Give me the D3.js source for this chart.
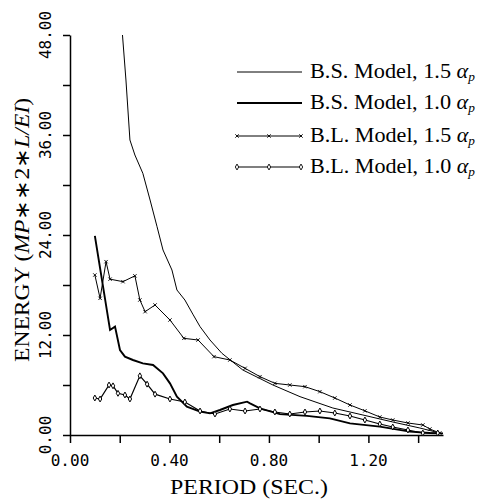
<!DOCTYPE html>
<html>
<head>
<meta charset="utf-8">
<script src="https://cdn.jsdelivr.net/npm/d3@7"></script>
<style>
body { margin: 0; background: #fff; }
svg { display: block; }
</style>
</head>
<body>
<script>
// period (sec.) and energy values
var bs15Period = [0.211, 0.225, 0.241, 0.261, 0.293, 0.322, 0.350, 0.374, 0.410, 0.430, 0.462, 0.494, 0.523, 0.563, 0.611, 0.695, 0.816, 0.925, 1.057, 1.178, 1.298, 1.407, 1.487];
var bs15Energy = [48.0, 42.6, 35.4, 33.6, 31.4, 28.2, 25.0, 22.2, 19.8, 17.4, 16.2, 14.5, 13.0, 11.4, 9.8, 7.8, 6.0, 4.6, 3.24, 2.4, 1.56, 0.84, 0.24];

var bs10Period = [0.100, 0.161, 0.181, 0.201, 0.221, 0.253, 0.293, 0.334, 0.374, 0.402, 0.430, 0.470, 0.523, 0.563, 0.603, 0.655, 0.712, 0.724, 0.764, 0.844, 0.953, 1.045, 1.126, 1.246, 1.367, 1.447, 1.5];
var bs10Energy = [23.9, 12.6, 13.0, 10.2, 9.4, 9.0, 8.6, 8.4, 7.4, 6.2, 4.6, 3.4, 2.8, 2.6, 3.0, 3.6, 4.0, 3.8, 3.2, 2.5, 2.3, 2.0, 1.4, 1.0, 0.4, 0.24, 0.2];

var bl15Period = [0.100, 0.121, 0.145, 0.161, 0.213, 0.261, 0.281, 0.302, 0.342, 0.402, 0.458, 0.515, 0.579, 0.643, 0.704, 0.764, 0.824, 0.884, 0.945, 1.005, 1.065, 1.126, 1.186, 1.246, 1.298, 1.359, 1.419, 1.447, 1.487];
var bl15Energy = [19.2, 16.4, 20.8, 18.7, 18.4, 19.1, 16.2, 14.8, 15.6, 13.8, 11.6, 11.4, 9.4, 9.0, 8.0, 7.0, 6.2, 6.0, 5.8, 5.2, 4.44, 3.6, 2.9, 2.16, 1.8, 1.44, 1.2, 0.72, 0.24];

var bl10Period = [0.100, 0.121, 0.157, 0.173, 0.193, 0.221, 0.241, 0.281, 0.310, 0.342, 0.402, 0.462, 0.523, 0.583, 0.643, 0.704, 0.764, 0.824, 0.884, 0.945, 1.005, 1.065, 1.126, 1.186, 1.246, 1.298, 1.359, 1.419, 1.479];
var bl10Energy = [4.44, 4.32, 6.0, 5.9, 5.0, 4.8, 4.32, 7.1, 6.1, 4.9, 4.32, 3.96, 2.88, 2.52, 3.12, 2.88, 3.12, 2.76, 2.52, 2.76, 2.88, 2.64, 2.28, 1.8, 1.32, 0.96, 0.6, 0.24, 0.24];

var xTicks = [0, 0.2, 0.4, 0.6, 0.8, 1.0, 1.2, 1.4];
var xLabels = [0, 0.4, 0.8, 1.2];
var yTicks = [0, 6, 12, 18, 24, 30, 36, 42, 48];
var yLabels = [0, 12, 24, 36, 48];

var legendNames = ["B.S. Model, 1.5 ", "B.S. Model, 1.0 ", "B.L. Model, 1.5 ", "B.L. Model, 1.0 "];

function zip(xs, ys) {
  var out = [];
  for (var i = 0; i < xs.length; i++) out.push({p: xs[i], e: ys[i]});
  return out;
}

var width = 482, height = 501;

var svg = d3.select("body").append("svg")
  .attr("width", width)
  .attr("height", height);

var x = d3.scaleLinear().domain([0, 1.5]).range([70, 443]);
var y = d3.scaleLinear().domain([0, 48]).range([435, 35]);

// axes
svg.append("g")
  .attr("transform", "translate(0,435)")
  .call(d3.axisBottom(x).tickValues(xTicks).tickSize(8).tickSizeOuter(0).tickFormat(""))
  .call(function(g) { g.selectAll("path, line").attr("stroke", "#000").attr("stroke-width", 1.5); });

svg.append("g")
  .attr("transform", "translate(70,0)")
  .call(d3.axisLeft(y).tickValues(yTicks).tickSize(7).tickSizeOuter(0).tickFormat(""))
  .call(function(g) { g.selectAll("path, line").attr("stroke", "#000").attr("stroke-width", 1.5); });

svg.selectAll(".xlab").data(xLabels).enter().append("text")
  .attr("class", "xlab")
  .attr("x", function(d) { return x(d); })
  .attr("y", 466)
  .attr("text-anchor", "middle")
  .style("font-family", "DejaVu Sans Mono")
  .style("font-size", "16px")
  .text(function(d) { return d.toFixed(2); });

svg.selectAll(".ylab").data(yLabels).enter().append("text")
  .attr("class", "ylab")
  .attr("transform", function(d) { return "translate(51," + y(d) + ") rotate(-90)"; })
  .attr("text-anchor", "middle")
  .style("font-family", "DejaVu Sans Mono")
  .style("font-size", "16px")
  .text(function(d) { return d.toFixed(2); });

// axis titles
svg.append("text")
  .attr("x", 249)
  .attr("y", 494)
  .attr("text-anchor", "middle")
  .attr("textLength", 158)
  .attr("lengthAdjust", "spacingAndGlyphs")
  .style("font-family", "Liberation Serif")
  .style("font-size", "21px")
  .text("PERIOD (SEC.)");

var yt = svg.append("text")
  .attr("transform", "translate(29,230) rotate(-90)")
  .attr("text-anchor", "middle")
  .attr("textLength", 264)
  .attr("lengthAdjust", "spacingAndGlyphs")
  .style("font-family", "Liberation Serif")
  .style("font-size", "20px");
yt.append("tspan").text("ENERGY (");
yt.append("tspan").style("font-style", "italic").text("MP");
yt.append("tspan").text("∗∗2∗");
yt.append("tspan").style("font-style", "italic").text("L/EI");
yt.append("tspan").text(")");

// curves
var line = d3.line()
  .x(function(d) { return x(d.p); })
  .y(function(d) { return y(d.e); });

var bs15 = zip(bs15Period, bs15Energy);
var bs10 = zip(bs10Period, bs10Energy);
var bl15 = zip(bl15Period, bl15Energy);
var bl10 = zip(bl10Period, bl10Energy);

svg.append("path").datum(bs15).attr("fill", "none").attr("stroke", "#000").attr("stroke-width", 1).attr("d", line);
svg.append("path").datum(bs10).attr("fill", "none").attr("stroke", "#000").attr("stroke-width", 1.9).attr("d", line);
svg.append("path").datum(bl15).attr("fill", "none").attr("stroke", "#000").attr("stroke-width", 1).attr("d", line);
svg.append("path").datum(bl10).attr("fill", "none").attr("stroke", "#000").attr("stroke-width", 1.2).attr("d", line);

var crossMark = d3.symbol().type(d3.symbolTimes).size(9);
var diamondMark = d3.symbol().type(d3.symbolDiamond).size(10);

svg.selectAll(".xm").data(bl15).enter().append("path")
  .attr("class", "xm")
  .attr("transform", function(d) { return "translate(" + x(d.p) + "," + y(d.e) + ")"; })
  .attr("d", crossMark)
  .attr("fill", "none").attr("stroke", "#000").attr("stroke-width", 0.9);

svg.selectAll(".dm").data(bl10).enter().append("path")
  .attr("class", "dm")
  .attr("transform", function(d) { return "translate(" + x(d.p) + "," + y(d.e) + ")"; })
  .attr("d", diamondMark)
  .attr("fill", "#fff").attr("stroke", "#000").attr("stroke-width", 1);

// legend
var legendY = [72, 103, 136, 167];
var legendW = [1, 1.9, 1, 1.2];
var lg = svg.append("g");
legendNames.forEach(function(name, i) {
  lg.append("line")
    .attr("x1", 237).attr("x2", 302)
    .attr("y1", legendY[i]).attr("y2", legendY[i])
    .attr("stroke", "#000").attr("stroke-width", legendW[i]);
  if (i >= 2) {
    [237, 269, 301].forEach(function(px) {
      lg.append("path")
        .attr("transform", "translate(" + px + "," + legendY[i] + ")")
        .attr("d", i === 2 ? crossMark : diamondMark)
        .attr("fill", i === 2 ? "none" : "#fff")
        .attr("stroke", "#000").attr("stroke-width", 0.9);
    });
  }
  var t = lg.append("text")
    .attr("x", 310).attr("y", legendY[i] + 6)
    .attr("textLength", 165)
    .attr("lengthAdjust", "spacingAndGlyphs")
    .style("font-family", "Liberation Serif")
    .style("font-size", "20px");
  t.append("tspan").text(name);
  t.append("tspan").style("font-style", "italic").text("α");
  t.append("tspan").style("font-style", "italic").style("font-size", "12px").attr("dy", 3).text("p");
});
</script>
</body>
</html>
